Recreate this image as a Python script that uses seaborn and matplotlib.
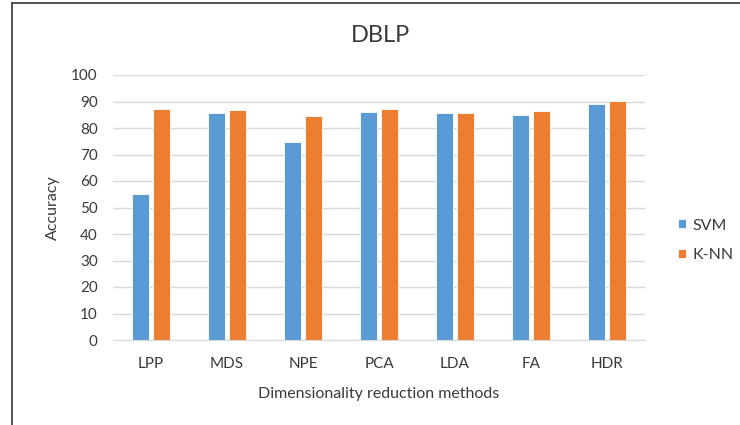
import matplotlib
matplotlib.use("Agg")
import matplotlib.pyplot as plt
import numpy as np
import pandas as pd
import seaborn as sns
from matplotlib.lines import Line2D

methods = ["LPP", "MDS", "NPE", "PCA", "LDA", "FA", "HDR"]
svm = [55.0, 85.6, 74.6, 86.1, 85.6, 85.0, 89.0]
knn = [87.3, 86.8, 84.4, 87.3, 85.6, 86.6, 90.2]
series = ["SVM", "K-NN"]
colors = ["#5B9BD5", "#ED7D31"]

df = pd.DataFrame({
    "method": methods * 2,
    "model": ["SVM"] * len(methods) + ["K-NN"] * len(methods),
    "acc": svm + knn,
})

sns.set_style("white")
plt.rcParams["font.family"] = ["Lato", "DejaVu Sans"]
text_col = "#3A3A3A"

fig = plt.figure(figsize=(7.4, 4.25), dpi=100)
ax = fig.add_axes([113 / 740, 1 - 340 / 425, 532 / 740, 265 / 425])

sns.barplot(data=df, x="method", y="acc", hue="model", hue_order=series,
            palette=colors, width=0.57, gap=0.23, saturation=1,
            edgecolor="white", linewidth=0.6, ax=ax, legend=True)

ax.set_ylim(0, 100)
ax.set_yticks(np.arange(0, 101, 10))
ax.set_xlim(-0.5, len(methods) - 0.5)
ax.yaxis.grid(True, color="#D9D9D9", linewidth=1)
ax.set_axisbelow(True)
for s in ["top", "right", "left"]:
    ax.spines[s].set_visible(False)
ax.spines["bottom"].set_color("#D9D9D9")
ax.tick_params(axis="both", length=0, labelsize=11, colors=text_col)
ax.tick_params(axis="x", pad=12)
ax.tick_params(axis="y", pad=11)
ax.set_xlabel("Dimensionality reduction methods", fontsize=11.5, color=text_col, labelpad=12)
ax.set_ylabel("Accuracy", fontsize=11.5, color=text_col, labelpad=8)
fig.text(381 / 740, 1 - 36 / 425, "DBLP", ha="center", va="center",
         fontsize=17, color=text_col)

handles, labels = ax.get_legend_handles_labels()
ax.legend(handles, labels, loc="center left",
          bbox_to_anchor=(678 / 740, 1 - 240.5 / 425), bbox_transform=fig.transFigure,
          frameon=False, fontsize=11.5, labelcolor=text_col, handlelength=0.5,
          handleheight=0.5, handletextpad=0.4, labelspacing=1.0,
          borderpad=0, borderaxespad=0)

# frame lines of the screenshot
fig.add_artist(Line2D([12 / 740, 12 / 740], [0, 1 - 3 / 425], color="#333333", linewidth=1.2))
fig.add_artist(Line2D([12 / 740, 1], [1 - 3 / 425, 1 - 3 / 425], color="#333333", linewidth=1.2))

fig.savefig("out.png", dpi=100)
